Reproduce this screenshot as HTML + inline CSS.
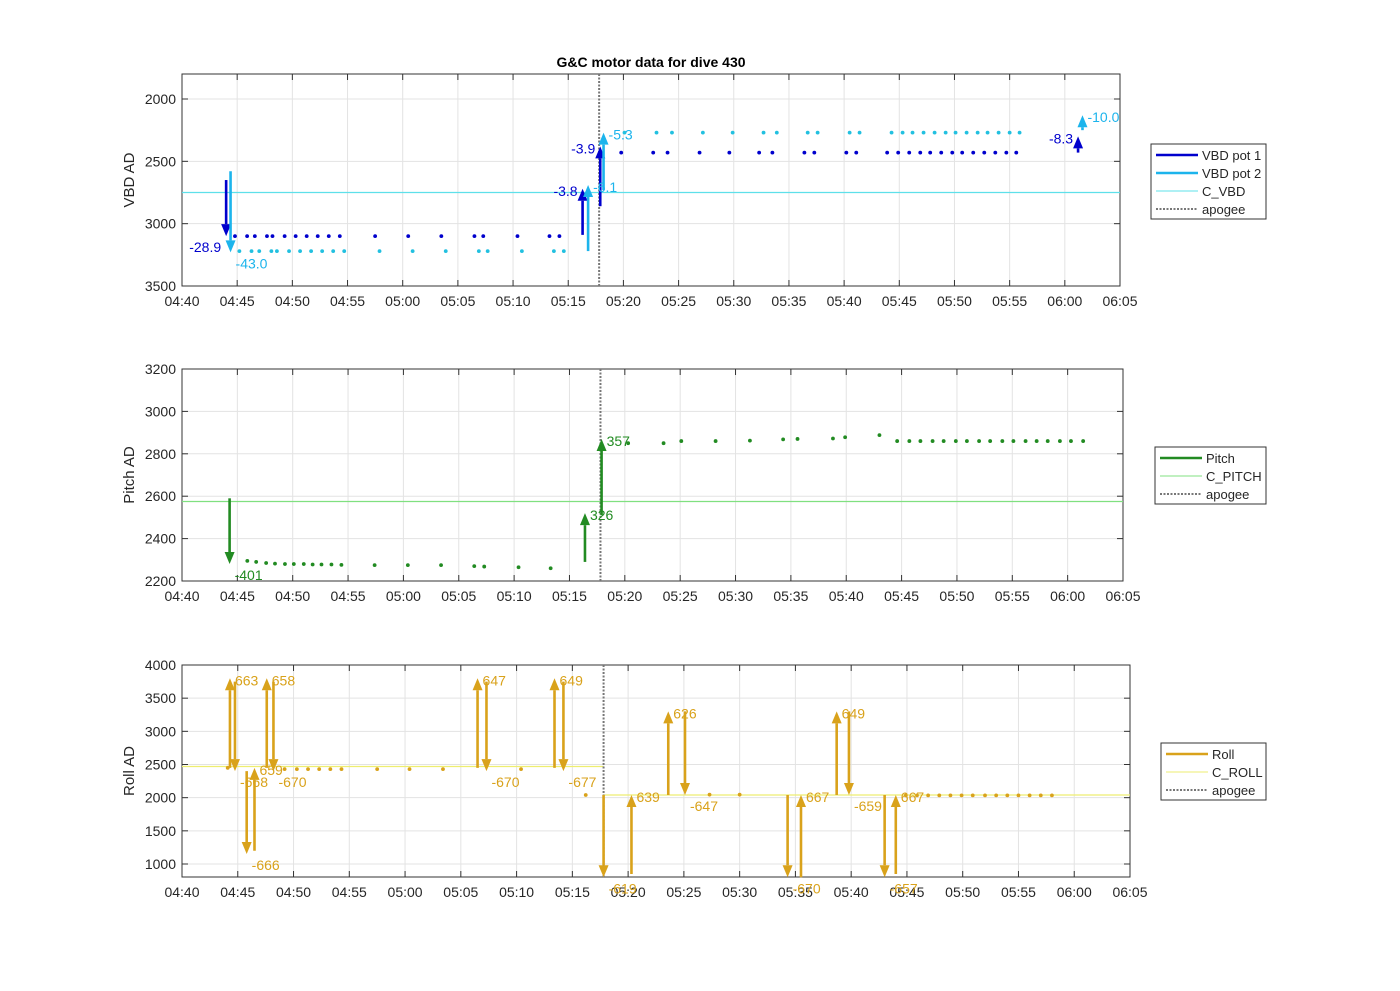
<!DOCTYPE html>
<html><head><meta charset="utf-8"><style>
body{margin:0;background:#fff;}
svg text{font-family:"Liberation Sans",sans-serif;}
</style></head><body>
<svg id="fig" width="1400" height="986" viewBox="0 0 1400 986" xmlns="http://www.w3.org/2000/svg">
<rect width="1400" height="986" fill="#fff"/>
<text x="651" y="67" font-size="14" font-weight="bold" text-anchor="middle">G&amp;C motor data for dive 430</text>
</svg>
<script>
// x values in minutes after 04:40
const xTickLabels=["04:40","04:45","04:50","04:55","05:00","05:05","05:10","05:15","05:20","05:25","05:30","05:35","05:40","05:45","05:50","05:55","06:00","06:05"];
const apogeeMin=37.8;
// VBD
const vbdTicks=[2000,2500,3000,3500];
const pot1X=[4.8,5.9,6.6,7.7,8.2,9.3,10.3,11.3,12.3,13.3,14.3,17.5,20.5,23.5,26.5,27.3,30.4,33.3,34.2,39.8,42.7,44.0,46.9,49.6,52.3,53.5,56.4,57.3,60.2,61.1,63.9,64.9,65.9,66.9,67.8,68.8,69.8,70.7,71.7,72.7,73.7,74.7,75.6];
const pot1Y=[3100,3100,3100,3100,3100,3100,3100,3100,3100,3100,3100,3100,3100,3100,3100,3100,3100,3100,3100,2430,2430,2430,2430,2430,2430,2430,2430,2430,2430,2430,2430,2430,2430,2430,2430,2430,2430,2430,2430,2430,2430,2430,2430];
const pot2X=[5.2,6.3,7.0,8.1,8.6,9.7,10.7,11.7,12.7,13.7,14.7,17.9,20.9,23.9,26.9,27.7,30.8,33.7,34.6,40.1,43.0,44.4,47.2,49.9,52.7,53.9,56.7,57.6,60.5,61.4,64.3,65.3,66.2,67.2,68.2,69.2,70.1,71.1,72.1,73.0,74.0,75.0,75.9];
const pot2Y=[3220,3220,3220,3220,3220,3220,3220,3220,3220,3220,3220,3220,3220,3220,3220,3220,3220,3220,3220,2270,2270,2270,2270,2270,2270,2270,2270,2270,2270,2270,2270,2270,2270,2270,2270,2270,2270,2270,2270,2270,2270,2270,2270];
const pot1ArrX=[4.0,36.3,37.9,81.2];
const pot1ArrFrom=[2650,3090,2860,2430];
const pot1ArrTo=[3100,2720,2380,2300];
const pot1ArrLbl=["-28.9","-3.8","-3.9","-8.3"];
const pot2ArrX=[4.4,36.8,38.2,81.6];
const pot2ArrFrom=[2580,3220,2730,2250];
const pot2ArrTo=[3230,2690,2270,2130];
const pot2ArrLbl=["-43.0","-6.1","-5.3","-10.0"];
const cVBD=2750;
// Pitch
const pitchTicks=[2200,2400,2600,2800,3000,3200];
const pitchX=[5.9,6.7,7.6,8.4,9.3,10.1,11.0,11.8,12.6,13.5,14.4,17.4,20.4,23.4,26.4,27.3,30.4,33.3,40.3,43.5,45.1,48.2,51.3,54.3,55.6,58.8,59.9,63.0,64.6,65.7,66.7,67.8,68.8,69.9,70.9,72.0,73.0,74.1,75.1,76.2,77.2,78.2,79.3,80.3,81.4];
const pitchY=[2295,2290,2285,2282,2280,2280,2280,2278,2278,2278,2276,2275,2275,2275,2270,2268,2265,2260,2850,2850,2860,2860,2862,2868,2870,2872,2878,2888,2860,2860,2860,2860,2860,2860,2860,2860,2860,2860,2860,2860,2860,2860,2860,2860,2860];
const pitchArrX=[4.3,36.4,37.9];
const pitchArrFrom=[2590,2290,2510];
const pitchArrTo=[2280,2520,2870];
const pitchArrLbl=["-401","326","357"];
const cPitch=2575;
// Roll
const rollTicks=[1000,1500,2000,2500,3000,3500,4000];
const rollX=[4.1,9.2,10.3,11.3,12.3,13.3,14.3,17.5,20.4,23.4,30.4,36.2,47.3,50.0,64.9,65.9,66.9,67.9,68.9,69.9,70.9,72.0,73.0,74.0,75.0,76.0,77.0,78.0];
const rollY=[2450,2430,2430,2430,2430,2430,2430,2430,2430,2430,2430,2040,2045,2045,2035,2035,2035,2035,2035,2035,2035,2035,2035,2035,2035,2035,2035,2035];
const rollArrX=[4.3,4.75,5.8,6.5,7.6,8.2,26.5,27.3,33.4,34.2,37.8,40.3,43.6,45.1,54.3,55.5,58.7,59.8,63.0,64.0];
const rollArrFrom=[2450,3750,2400,1200,2450,3750,2450,3750,2450,3750,2040,850,2040,3300,2040,800,2040,3300,2040,850];
const rollArrTo=[3800,2400,1150,2450,3800,2400,3800,2400,3800,2400,800,2040,3300,2040,800,2040,3300,2040,800,2040];
const rollArrLbl=["663","-668","-666","659","658","-670","647","-670","649","-677","-619","639","626","-647","-670","667","649","-659","-657","667"];
const cRollPre=2470, cRollPost=2040;

const svg=document.getElementById('fig');
const NS='http://www.w3.org/2000/svg';
function mk(tag,attrs,parent){const e=document.createElementNS(NS,tag);for(const k in attrs)e.setAttribute(k,attrs[k]);(parent||svg).appendChild(e);return e;}

function panel(o){
  const g=mk('g',{});
  
  
  const X=m=>o.x0+(o.x1-o.x0)*m/85;
  const Y=v=>o.py0+(o.py1-o.py0)*(v-o.v0)/(o.v1-o.v0);
  o.X=X;o.Y=Y;
  mk('rect',{x:o.x0,y:o.ytop,width:o.x1-o.x0,height:o.ybot-o.ytop,fill:'#fff'},g);
  for(let i=0;i<xTickLabels.length;i++){
    const x=X(i*5);
    mk('line',{x1:x,x2:x,y1:o.ytop,y2:o.ybot,stroke:'#e3e3e3','stroke-width':1},g);
    mk('line',{x1:x,x2:x,y1:o.ybot,y2:o.ybot-6,stroke:'#333'},g);
    mk('line',{x1:x,x2:x,y1:o.ytop,y2:o.ytop+6,stroke:'#333'},g);
    const t=mk('text',{x:x,y:o.ybot+20,'font-size':14,'text-anchor':'middle',fill:'#262626'},g);
    t.textContent=xTickLabels[i];
    
    
  }
  for(const v of o.ticks){
    const y=Y(v);
    mk('line',{x1:o.x0,x2:o.x1,y1:y,y2:y,stroke:'#e3e3e3'},g);
    mk('line',{x1:o.x0,x2:o.x0+6,y1:y,y2:y,stroke:'#333'},g);
    mk('line',{x1:o.x1,x2:o.x1-6,y1:y,y2:y,stroke:'#333'},g);
    const t=mk('text',{x:o.x0-6,y:y+5,'font-size':14,'text-anchor':'end',fill:'#262626'},g);
    t.textContent=v;
    
    
  }
  mk('rect',{x:o.x0,y:o.ytop,width:o.x1-o.x0,height:o.ybot-o.ytop,fill:'none',stroke:'#333','stroke-width':1},g);
  const yt=mk('text',{x:0,y:0,'font-size':15,'text-anchor':'middle',fill:'#262626',transform:`translate(${o.x0-48},${(o.ytop+o.ybot)/2}) rotate(-90)`},g);
  yt.textContent=o.ylabel;
  
  
  o.g=g;
  return o;
}
function hline(o,v,col,xa,xb,name){
  const l=mk('line',{x1:o.X(xa),x2:o.X(xb),y1:o.Y(v),y2:o.Y(v),stroke:col,'stroke-width':1.2},o.g);
  
  
}
function apogee(o){
  const x=o.X(apogeeMin);
  const l=mk('line',{x1:x,x2:x,y1:o.ytop,y2:o.ybot,stroke:'#777','stroke-width':2,'stroke-dasharray':'2,1.5'},o.g);
  
  
}
function dots(o,xs,ys,col,name){
  for(let i=0;i<xs.length;i++){
    const c=mk('circle',{cx:o.X(xs[i]),cy:o.Y(ys[i]),r:1.9,fill:col},o.g);
    
    
  }
}
function arrows(o,xs,fr,to,lbl,col,name,side){
  for(let i=0;i<xs.length;i++){
    const x=o.X(xs[i]),y1=o.Y(fr[i]),y2=o.Y(to[i]);
    const dir=y2<y1?-1:1;
    const hb=y2-dir*12;
    const g=mk('g',{},o.g);
    
    
    mk('line',{x1:x,x2:x,y1:y1,y2:hb,stroke:col,'stroke-width':2.6},g);
    mk('polygon',{points:`${x-5},${hb} ${x+5},${hb} ${x},${y2}`,fill:col},g);
    const s=side;
    const t=mk('text',{x:s==='L'?x-5:x+5,y:dir<0?y2+7:y2+16,'font-size':14,fill:col,'text-anchor':s==='L'?'end':'start'},g);
    t.textContent=lbl[i];
    
    
  }
}
function legend(x,y,w,items,name){
  const g=mk('g',{});
  
  
  mk('rect',{x:x,y:y,width:w,height:items.length*18+3,fill:'#fff',stroke:'#333'},g);
  items.forEach((it,i)=>{
    const yy=y+11+i*18;
    const a={x1:x+5,x2:x+47,y1:yy,y2:yy,stroke:it[1],'stroke-width':it[2]};
    if(it[3])a['stroke-dasharray']='2,1.5';
    mk('line',a,g);
    const t=mk('text',{x:x+51,y:yy+5,'font-size':13,fill:'#262626'},g);
    t.textContent=it[0];
    
    
  });
}
const P1='#0000cd',P2='#1cb4ec';
const vbdPanel=panel({name:'vbd',x0:182,x1:1120,ytop:74,ybot:286,v0:2000,v1:3500,py0:99,py1:286,ticks:vbdTicks,ylabel:'VBD AD'});
hline(vbdPanel,cVBD,'#5ee0ea',0,85,'c-vbd-line');
apogee(vbdPanel);
dots(vbdPanel,pot2X,pot2Y,'#22c0e0','vbd-pot2-point');
dots(vbdPanel,pot1X,pot1Y,P1,'vbd-pot1-point');
arrows(vbdPanel,pot1ArrX,pot1ArrFrom,pot1ArrTo,pot1ArrLbl,P1,'vbd-pot1-arrow','L');
arrows(vbdPanel,pot2ArrX,pot2ArrFrom,pot2ArrTo,pot2ArrLbl,P2,'vbd-pot2-arrow','R');
legend(1151,144,115,[['VBD pot 1',P1,2.5],['VBD pot 2',P2,2.5],['C_VBD','#5ee0ea',1],['apogee','#777',2,1]],'vbd-legend');

const PC='#228b22';
const pitchPanel=panel({name:'pitch',x0:182,x1:1123,ytop:369,ybot:581,v0:2200,v1:3200,py0:581,py1:369,ticks:pitchTicks,ylabel:'Pitch AD'});
hline(pitchPanel,cPitch,'#80e080',0,85,'c-pitch-line');
apogee(pitchPanel);
dots(pitchPanel,pitchX,pitchY,PC,'pitch-point');
arrows(pitchPanel,pitchArrX,pitchArrFrom,pitchArrTo,pitchArrLbl,PC,'pitch-arrow','R');
legend(1155,447,111,[['Pitch',PC,2.5],['C_PITCH','#80e080',1],['apogee','#777',2,1]],'pitch-legend');

const RC='#d9a21b';
const rollPanel=panel({name:'roll',x0:182,x1:1130,ytop:665,ybot:877,v0:4000,v1:1000,py0:665,py1:864,ticks:rollTicks,ylabel:'Roll AD'});
hline(rollPanel,cRollPre,'#eeee70',0,apogeeMin,'c-roll-line');
hline(rollPanel,cRollPost,'#eeee70',apogeeMin,85,'c-roll-line');
apogee(rollPanel);
dots(rollPanel,rollX,rollY,RC,'roll-point');
arrows(rollPanel,rollArrX,rollArrFrom,rollArrTo,rollArrLbl,RC,'roll-arrow','R');
legend(1161,743,105,[['Roll',RC,2.5],['C_ROLL','#eeee70',1],['apogee','#777',2,1]],'roll-legend');
</script>
</body></html>
